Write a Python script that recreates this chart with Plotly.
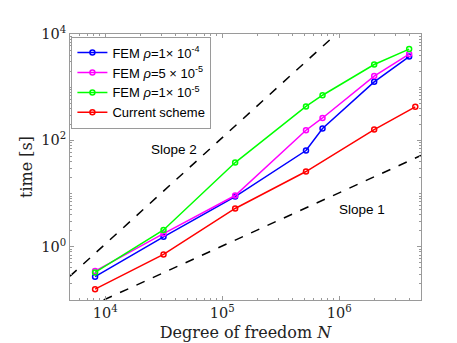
import plotly.graph_objects as go

# degrees of freedom
dof = [8192, 31500, 129000, 520000, 720000, 1990000, 3960000]
dof_red = [8192, 31500, 129000, 520000, 1990000, 4470000]

# run times [s]
fem_1e4 = [0.275, 1.54, 8.8, 64.5, 167, 1260, 3760]
fem_5e5 = [0.35, 1.77, 9.2, 155, 264, 1620, 4190]
fem_1e5 = [0.33, 2.07, 38.3, 435, 706, 2670, 5200]
current = [0.16, 0.72, 5.25, 26, 160, 427]

# reference slope lines (end points)
slope2_x = [5000, 1000000]
slope2_y = [0.281, 11250]
slope1_x = [9700, 5000000]
slope1_y = [0.1, 52]

fig = go.Figure()

fig.add_trace(go.Scatter(x=slope2_x, y=slope2_y, mode='lines', showlegend=False,
                         line=dict(color='black', width=1.5, dash='dash')))
fig.add_trace(go.Scatter(x=slope1_x, y=slope1_y, mode='lines', showlegend=False,
                         line=dict(color='black', width=1.5, dash='dash')))

series = [
    ('FEM <i>ρ</i>=1× 10<sup>-4</sup>', dof, fem_1e4, '#0000ff'),
    ('FEM <i>ρ</i>=5 × 10<sup>-5</sup>', dof, fem_5e5, '#ff00ff'),
    ('FEM <i>ρ</i>=1× 10<sup>-5</sup>', dof, fem_1e5, '#00ff00'),
    ('Current scheme', dof_red, current, '#ff0000'),
]
for name, xs, ys, c in series:
    fig.add_trace(go.Scatter(x=xs, y=ys, name=name, mode='lines+markers',
                             line=dict(color=c, width=1.5),
                             marker=dict(symbol='circle-open', size=5, color=c,
                                         line=dict(width=1.5))))

fig.add_annotation(x=4.584, y=1.83, text='Slope 2', showarrow=False,
                   font=dict(family='Liberation Sans', size=13.5, color='black'))
fig.add_annotation(x=6.192, y=0.695, text='Slope 1', showarrow=False,
                   font=dict(family='Liberation Sans', size=13.5, color='black'))

minor_vals = [m * 10 ** e for e in range(-1, 7) for m in range(1, 10)]

axis_style = dict(type='log', showline=True, mirror='allticks', linecolor='#9a9a9a',
                  linewidth=1, ticks='inside', ticklen=4, tickcolor='#9a9a9a',
                  showgrid=False, zeroline=False,
                  tickfont=dict(family='DejaVu Serif', size=14.5, color='#222'),
                  minor=dict(ticks='inside', ticklen=2, tickcolor='#9a9a9a',
                             tickvals=minor_vals))

fig.update_xaxes(axis_style, range=[3.699, 6.699],
                 tickvals=[1e4, 1e5, 1e6],
                 ticktext=['10<sup>4</sup>', '10<sup>5</sup>', '10<sup>6</sup>'],
                 title=dict(text='Degree of freedom <i>N</i>', standoff=6,
                            font=dict(family='DejaVu Serif', size=16, color='#222')))
fig.update_yaxes(axis_style, range=[-1, 4],
                 tickvals=[1, 100, 10000],
                 ticktext=['10<sup>0</sup>', '10<sup>2</sup>', '10<sup>4</sup>'],
                 title=dict(text='time [s]', standoff=4,
                            font=dict(family='DejaVu Serif', size=16, color='#222')))

fig.update_layout(
    width=457, height=343,
    margin=dict(l=62, r=44, t=26, b=49),
    plot_bgcolor='white', paper_bgcolor='white',
    legend=dict(x=0.004, y=0.99, xanchor='left', yanchor='top',
                bgcolor='white', bordercolor='#9a9a9a', borderwidth=1,
                font=dict(family='Liberation Sans', size=13, color='black'),
                tracegroupgap=0, itemwidth=30),
)

fig.write_html('out.html')
